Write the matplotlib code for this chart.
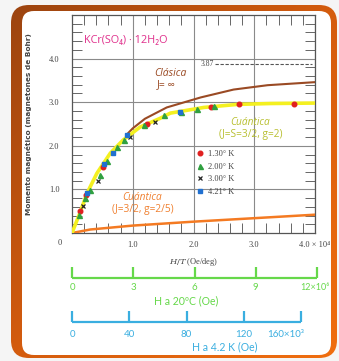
import numpy as np
import matplotlib
matplotlib.use("Agg")
import matplotlib.pyplot as plt
from matplotlib.patches import FancyBboxPatch
from matplotlib.ticker import MultipleLocator

plt.rcParams['mathtext.fontset'] = 'dejavuserif'

# theoretical curves
clasica_x = [0.93, 1.0, 1.2, 1.56, 2.12, 2.66, 3.22, 4.0]
clasica_y = [2.30, 2.40, 2.62, 2.88, 3.11, 3.29, 3.39, 3.46]

cuant_s_x = [0.0, 0.02, 0.13, 0.25, 0.41, 0.63, 0.84, 1.12, 1.45, 1.62, 2.17, 2.73, 3.27, 4.0]
cuant_s_y = [0.0, 0.07, 0.46, 0.92, 1.37, 1.83, 2.13, 2.43, 2.63, 2.75, 2.88, 2.95, 2.97, 2.98]

cuant_j_x = [0.0, 0.3, 1.0, 2.0, 3.0, 4.0]
cuant_j_y = [0.0, 0.08, 0.17, 0.26, 0.34, 0.42]

# measured points per temperature
t130_x = [0.13, 0.23, 0.51, 1.24, 2.28, 2.75, 3.66]
t130_y = [0.51, 0.87, 1.52, 2.49, 2.89, 2.95, 2.97]
t200_x = [0.12, 0.21, 0.29, 0.46, 0.57, 0.74, 0.85, 1.18, 1.51, 1.79, 2.06, 2.34]
t200_y = [0.41, 0.80, 0.98, 1.33, 1.65, 1.97, 2.13, 2.47, 2.70, 2.78, 2.85, 2.91]
t300_x = [0.18, 0.42, 0.96, 1.37]
t300_y = [0.62, 1.20, 2.20, 2.55]
t421_x = [0.25, 0.53, 0.67, 0.90, 1.77]
t421_y = [0.91, 1.58, 1.84, 2.24, 2.78]

sat_clasica = 3.87

x_ticks = [1, 2, 3, 4]
x_labels = ["1.0", "2.0", "3.0", "4.0 \u00d7 10\u2074"]
y_ticks = [1, 2, 3, 4]
y_labels = ["1.0", "2.0", "3.0", "4.0"]

h20_ticks = [0, 3, 6, 9, 12]
h20_labels = ["0", "3", "6", "9", "12\u00d710\u2076"]
h42_ticks = [0, 40, 80, 120, 160]
h42_labels = ["0", "40", "80", "120", "160\u00d710\u00b3"]

W, H = 339, 361
fig = plt.figure(figsize=(W / 100, H / 100), dpi=100)
fig.patch.set_facecolor("#f5f5f5")

# background frame
bg = fig.add_axes([0, 0, 1, 1])
bg.set_xlim(0, W)
bg.set_ylim(H, 0)
bg.axis("off")
gx, gy = np.meshgrid(np.linspace(0, 1, 200), np.linspace(0, 1, 200))
grad = (gx * 0.6 + gy * 0.6)
cmap = matplotlib.colors.LinearSegmentedColormap.from_list("fr", ["#9c4410", "#d45c0e", "#f06e10"])
outer = FancyBboxPatch((11, 5), 326, 353, boxstyle="round,pad=0,rounding_size=18",
                       facecolor="none", edgecolor="none")
bg.add_patch(outer)
im = bg.imshow(grad, cmap=cmap, extent=(11, 337, 358, 5), aspect="auto", vmin=0, vmax=1.2)
im.set_clip_path(outer)
inner = FancyBboxPatch((22, 11), 309, 344, boxstyle="round,pad=0,rounding_size=12",
                       facecolor="white", edgecolor="none")
bg.add_patch(inner)

# main chart
ax = fig.add_axes([72 / W, 1 - 233 / H, 243 / W, 218 / H])
ax.set_xlim(0, 4.0)
ax.set_ylim(0, 5.0)

ax.plot(cuant_j_x, cuant_j_y, color="#f47a22", lw=1.8, zorder=3)
ax.plot(clasica_x, clasica_y, color="#9a4a24", lw=1.5, zorder=3)
ax.plot(cuant_s_x, cuant_s_y, color="#f4f020", lw=2.6, zorder=3)

ax.plot(t130_x, t130_y, "o", color="#e02020", ms=3.3, ls="none", label="1.30\u00b0 K", zorder=4)
ax.plot(t200_x, t200_y, "^", color="#30a040", ms=3.6, ls="none", label="2.00\u00b0 K", zorder=4)
ax.plot(t300_x, t300_y, "x", color="#222222", ms=3.2, mew=0.9, ls="none", label="3.00\u00b0 K", zorder=4)
ax.plot(t421_x, t421_y, "s", color="#2070d0", ms=3.3, ls="none", label="4.21\u00b0 K", zorder=4)

ax.hlines(sat_clasica, 2.36, 3.95, colors="#555555", lw=0.8, linestyles=(0, (3, 1.5)))
ax.text(2.34, sat_clasica, "3.87", ha="right", va="center", fontsize=5.5,
        family="Liberation Serif", color="#444444")

ax.set_xticks(x_ticks)
ax.set_xticklabels(x_labels)
ax.set_yticks(y_ticks)
ax.set_yticklabels(y_labels)
ax.xaxis.set_minor_locator(MultipleLocator(0.2))
ax.yaxis.set_minor_locator(MultipleLocator(0.2))
ax.tick_params(which="both", direction="in", top=True, right=True, color="#666666")
ax.tick_params(which="major", length=0, labelsize=6, labelcolor="#444444")
ax.tick_params(axis="x", which="major", pad=6)
ax.tick_params(axis="y", which="major", pad=9)
ax.tick_params(which="minor", length=7, width=0.7)
for lab in ax.get_xticklabels() + ax.get_yticklabels():
    lab.set_family("Liberation Serif")
ax.grid(True, which="major", color="#8a8a8a", lw=0.8)
for s in ax.spines.values():
    s.set_color("#555555")
    s.set_linewidth(0.9)
ax.text(-0.2, -0.22, "0", ha="center", va="center", fontsize=6,
        family="Liberation Serif", color="#444444")

ax.set_ylabel("Momento magn\u00e9tico (magnetones de Bohr)", fontsize=5.3, color="#444444",
              fontweight="semibold")
ax.yaxis.set_label_coords(-0.165, 0.5)
ax.set_xlabel("$H/T$ (Oe/deg)", fontsize=6, color="#444444", family="Liberation Serif")
ax.xaxis.set_label_coords(0.5, -0.105)

ax.text(0.2, 4.42, "KCr(SO\u2084) \u00b7 12H\u2082O", color="#e0308c", fontsize=7.8,
        ha="left", va="center", family="Open Sans")
ax.text(1.62, 3.66, "Cl\u00e1sica", color="#9a4a24", fontsize=7.5, ha="center", va="center",
        family="Open Sans", style="italic")
ax.text(1.55, 3.41, "J= \u221e", color="#9a4a24", fontsize=7.5, ha="center", va="center",
        family="Open Sans")
ax.text(2.94, 2.54, "Cu\u00e1ntica", color="#b8bf30", fontsize=7.3, ha="center", va="center",
        family="Open Sans", style="italic")
ax.text(2.94, 2.27, "(J=S=3/2, g=2)", color="#b8bf30", fontsize=7.3, ha="center", va="center",
        family="Open Sans")
ax.text(1.16, 0.82, "Cu\u00e1ntica", color="#f08030", fontsize=7.3, ha="center", va="center",
        family="Open Sans", style="italic")
ax.text(1.16, 0.55, "(J=3/2, g=2/5)", color="#f08030", fontsize=7.3, ha="center", va="center",
        family="Open Sans")

leg = ax.legend(loc="upper left", bbox_to_anchor=(1.97, 2.0), bbox_transform=ax.transData,
                frameon=False, fontsize=6, handlelength=1.0, handletextpad=0.5,
                labelspacing=0.55, borderpad=0)
for t in leg.get_texts():
    t.set_family("Liberation Serif")
    t.set_color("#444444")

# secondary field scales
green = "#66d84a"
ax_g = fig.add_axes([72 / W, 1 - 278 / H, 245 / W, 11 / H])
ax_g.set_xlim(0, 12)
ax_g.set_ylim(0, 1)
ax_g.axis("off")
ax_g.plot([h20_ticks[0], h20_ticks[-1]], [0, 0], color=green, lw=1.6, clip_on=False,
          solid_capstyle="butt")
ax_g.vlines(h20_ticks, 0, 1, colors=green, lw=1.6, clip_on=False)
for t, lab in zip(h20_ticks, h20_labels):
    last = t == h20_ticks[-1]
    ax_g.text(t - (0.1 if last else 0), -0.9, lab, ha="center", va="center", color=green,
              fontsize=6.5 if last else 7, family="Lato")
ax_g.text(5.6, -2.1, "H a 20\u00baC (Oe)", ha="center", va="center", color=green,
          fontsize=7.6, family="Lato")

blue = "#3aaee0"
ax_b = fig.add_axes([72 / W, 1 - 322 / H, 229 / W, 11 / H])
ax_b.set_xlim(0, 160)
ax_b.set_ylim(0, 1)
ax_b.axis("off")
ax_b.plot([h42_ticks[0], h42_ticks[-1]], [0, 0], color=blue, lw=1.6, clip_on=False,
          solid_capstyle="butt")
ax_b.vlines(h42_ticks, 0, 1, colors=blue, lw=1.6, clip_on=False)
for t, lab in zip(h42_ticks, h42_labels):
    ha = "right" if t == h42_ticks[-1] else "center"
    ax_b.text(t + (2 if ha == "right" else 0), -1.18, lab, ha=ha, va="center", color=blue,
              fontsize=7, family="Lato")
ax_b.text(107, -2.27, "H a 4.2 K (Oe)", ha="center", va="center", color=blue,
          fontsize=7.6, family="Lato")

fig.savefig("out.png", dpi=100, facecolor=fig.get_facecolor())
